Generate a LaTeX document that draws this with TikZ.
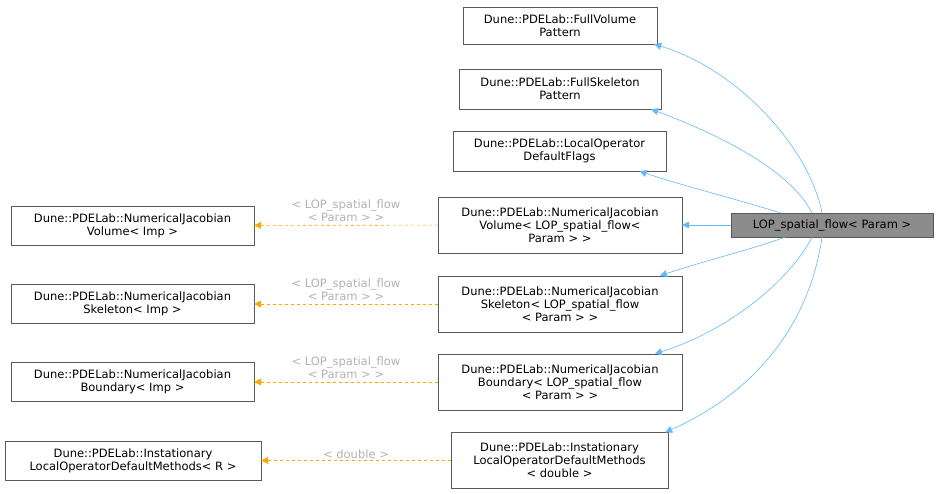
\documentclass[tikz,border=0pt]{standalone}
\usepackage{fontspec}
\setmainfont{DejaVu Sans}
\usetikzlibrary{arrows.meta}
\definecolor{inhblue}{HTML}{63B8FF}
\definecolor{tplorange}{HTML}{FFA500}
\tikzset{
  cls/.style={draw=black!65,fill=white,align=center,inner sep=2pt,font=\fontsize{11.5}{13}\selectfont},
  inh/.style={-{Triangle[fill=inhblue,length=7pt,width=7pt]},draw=inhblue,semithick},
  tpl/.style={-{Triangle[fill=tplorange,length=7pt,width=7pt]},draw=tplorange,dashed,semithick},
  lbl/.style={text=black!30,font=\fontsize{11.5}{13}\selectfont,align=center}
}
\begin{document}
\begin{tikzpicture}[x=1pt,y=-1pt]
\useasboundingbox (0,0) rectangle (939,494);
\node[cls,minimum width=194pt,minimum height=37pt] (fv) at (560,25.5) {Dune::PDELab::FullVolume\\Pattern};
\node[cls,minimum width=202pt,minimum height=40pt] (fs) at (560,89) {Dune::PDELab::FullSkeleton\\Pattern};
\node[cls,minimum width=213pt,minimum height=40pt] (df) at (559.5,151) {Dune::PDELab::LocalOperator\\DefaultFlags};
\node[cls,minimum width=244pt,minimum height=56pt] (njv) at (560,225) {Dune::PDELab::NumericalJacobian\\Volume< LOP\_spatial\_flow<\\ Param > >};
\node[cls,minimum width=244pt,minimum height=56pt] (njs) at (560,304) {Dune::PDELab::NumericalJacobian\\Skeleton< LOP\_spatial\_flow\\< Param > >};
\node[cls,minimum width=244pt,minimum height=56pt] (njb) at (560,382) {Dune::PDELab::NumericalJacobian\\Boundary< LOP\_spatial\_flow\\< Param > >};
\node[cls,minimum width=217pt,minimum height=56pt] (ins) at (559.5,460.5) {Dune::PDELab::Instationary\\LocalOperatorDefaultMethods\\< double >};
\node[cls,fill=black!45,minimum width=202pt,minimum height=24pt] (lop) at (832,225) {LOP\_spatial\_flow< Param >};
\node[cls,minimum width=243pt,minimum height=39pt] (jv) at (132.5,225.5) {Dune::PDELab::NumericalJacobian\\Volume< Imp >};
\node[cls,minimum width=243pt,minimum height=39pt] (js) at (132.5,304) {Dune::PDELab::NumericalJacobian\\Skeleton< Imp >};
\node[cls,minimum width=243pt,minimum height=39pt] (jb) at (132.5,382) {Dune::PDELab::NumericalJacobian\\Boundary< Imp >};
\node[cls,minimum width=256pt,minimum height=39pt] (ji) at (133,460.5) {Dune::PDELab::Instationary\\LocalOperatorDefaultMethods< R >};
% inheritance
\draw[inh] ([xshift=-10pt]lop.north) .. controls (810,150) and (740,70) .. ([xshift=-3pt]fv.south east);
\draw[inh] ([xshift=-20pt]lop.north) .. controls (790,170) and (720,135) .. ([xshift=-10pt]fs.south east);
\draw[inh] ([xshift=-52pt]lop.north) .. controls (740,200) and (680,185) .. ([xshift=80pt]df.south);
\draw[inh] (lop) -- (njv);
\draw[inh] ([xshift=-47pt]lop.south) .. controls (750,250) and (700,262) .. ([xshift=100pt]njs.north);
\draw[inh] ([xshift=-20pt]lop.south) .. controls (790,280) and (730,330) .. ([xshift=95pt]njb.north);
\draw[inh] ([xshift=-10pt]lop.south) .. controls (810,320) and (760,390) .. ([xshift=-3pt]ins.north east);
% template instances
\draw[tpl] (njv) -- node[lbl,above=0pt] {< LOP\_spatial\_flow\\< Param > >} (jv);
\draw[tpl] (njs) -- node[lbl,above=0pt] {< LOP\_spatial\_flow\\< Param > >} (js);
\draw[tpl] (njb) -- node[lbl,above=0pt] {< LOP\_spatial\_flow\\< Param > >} (jb);
\draw[tpl] (ins) -- node[lbl,above=-2pt] {< double >} (ji);
\end{tikzpicture}
\end{document}
